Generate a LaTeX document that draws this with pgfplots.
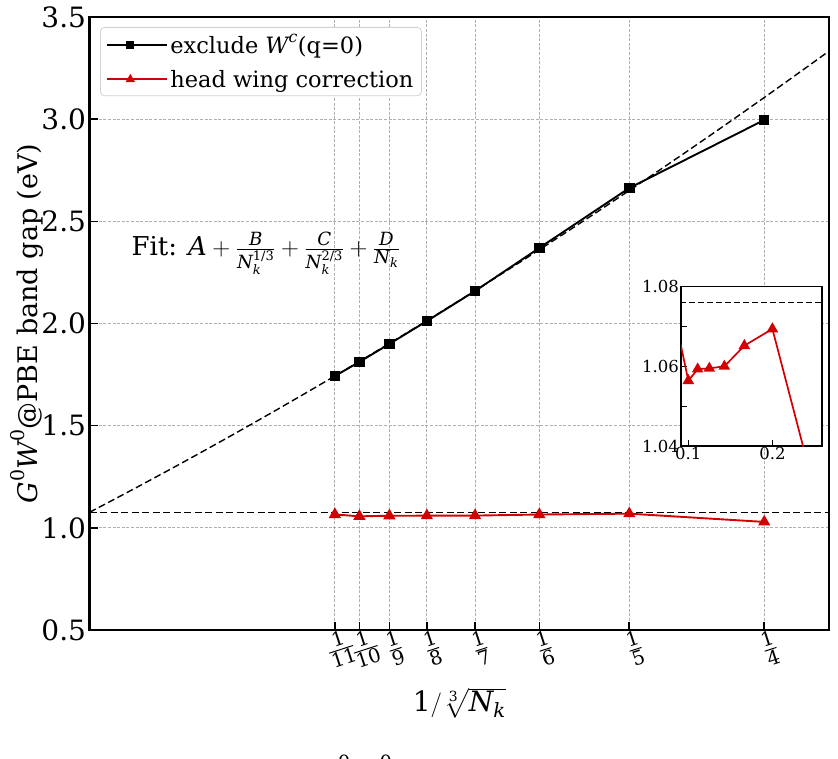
\documentclass[border=0pt]{standalone}
\usepackage{fontspec}
\setmainfont{DejaVu Serif}
\usepackage{amsmath}
\usepackage{pgfplots}
\pgfplotsset{compat=1.18}

\definecolor{hwred}{RGB}{210,0,0}
\definecolor{gridgray}{RGB}{176,176,176}
\definecolor{legframe}{RGB}{210,210,210}

% italic letters taken from the text font
\newcommand{\mi}[1]{\text{\itshape #1}}
\newcommand{\fsz}[1]{\fontsize{#1}{1.2\dimexpr#1\relax}\selectfont}

\begin{document}
\begin{tikzpicture}[x=1bp,y=1bp]
\useasboundingbox (0,0) rectangle (838,-759);

\begin{axis}[
  at={(89.5bp,-630bp)}, anchor=south west,
  scale only axis, width=739.5bp, height=613bp,
  xmin=0, xmax=0.274, ymin=0.5, ymax=3.5,
  xtick={0.0909091,0.1,0.1111111,0.125,0.1428571,0.1666667,0.2,0.25},
  xticklabels={$\frac{\text{1}}{\text{11}}$,$\frac{\text{1}}{\text{10}}$,$\frac{\text{1}}{\text{9}}$,$\frac{\text{1}}{\text{8}}$,$\frac{\text{1}}{\text{7}}$,$\frac{\text{1}}{\text{6}}$,$\frac{\text{1}}{\text{5}}$,$\frac{\text{1}}{\text{4}}$},
  ytick={0.5,1.0,1.5,2.0,2.5,3.0,3.5},
  yticklabel style={font=\fsz{28bp}, /pgf/number format/.cd, fixed, fixed zerofill, precision=1, assume math mode=true},
  tick align=inside, xtick pos=bottom, ytick pos=left,
  major tick length=8bp,
  every tick/.style={black, line width=1.6bp},
  axis line style={line width=2.4bp},
  grid=major,
  major grid style={gridgray, dash pattern=on 3bp off 1.6bp, line width=0.8bp},
  xticklabel style={font=\fsz{28bp}, rotate=18, anchor=north, inner sep=2bp},
  xlabel={$\text{1}/\sqrt[\text{3}]{\mi{N}_{\mi{k}}}$},
  xlabel style={font=\fsz{28bp}, at={(axis description cs:0.5,-0.119)}, anchor=center},
  ylabel={$\mi{G}^{\text{0}}\mi{W}^{\text{0}}$@PBE band gap (eV)},
  ylabel style={font=\fsz{27bp}, at={(axis description cs:-0.0845,0.5)}, anchor=center},
  legend style={at={(0.0142,0.9837)}, anchor=north west, draw=legframe,
    rounded corners=4bp, fill=white, font=\fsz{22.5bp},
    inner xsep=6bp, inner ysep=5bp, row sep=11bp, line width=0.8bp},
  legend cell align=left,
  legend image code/.code={\path (0bp,0bp) -- (60bp,0bp);
    \draw[mark repeat=2, mark phase=2, #1, mark options={scale=0.7}]
    plot coordinates {(0bp,0bp)(23bp,0bp)(46bp,0bp)};},
]
% converged data without the q=0 term
\addplot[black, line width=1.9bp, mark=square*, mark size=4.3bp] coordinates {
  (0.0909091,1.743) (0.1,1.812) (0.1111111,1.900) (0.125,2.012)
  (0.1428571,2.159) (0.1666667,2.370) (0.2,2.663) (0.25,2.996)};
\addlegendentry{exclude $\mi{W}^{\mi{c}}$(q=0)}
% head and wing corrected gaps
\addplot[hwred, line width=1.9bp, mark=triangle*, mark size=5.2bp] coordinates {
  (0.0909091,1.0655) (0.1,1.0564) (0.1111111,1.0593) (0.125,1.0595)
  (0.1428571,1.0600) (0.1666667,1.0652) (0.2,1.0694) (0.25,1.029)};
\addlegendentry{head wing correction}
% extrapolation fit, sampled
\addplot[black, line width=1.4bp, dash pattern=on 7bp off 3.5bp, forget plot] coordinates {
  (0.00,1.0760) (0.01,1.1454) (0.02,1.2158) (0.03,1.2871) (0.04,1.3595)
  (0.05,1.4328) (0.06,1.5072) (0.07,1.5825) (0.08,1.6588) (0.09,1.7360)
  (0.10,1.8143) (0.11,1.8935) (0.12,1.9737) (0.13,2.0549) (0.14,2.1370)
  (0.15,2.2202) (0.16,2.3044) (0.17,2.3895) (0.18,2.4757) (0.19,2.5627)
  (0.20,2.6508) (0.21,2.7399) (0.22,2.8299) (0.23,2.9209) (0.24,3.0129)
  (0.25,3.1059) (0.26,3.1999) (0.27,3.2949) (0.28,3.3908)};
% extrapolated limit A
\addplot[black, line width=1.4bp, dash pattern=on 7bp off 3.5bp, forget plot] coordinates {
  (0,1.076) (0.274,1.076)};
\node[anchor=west, font=\fsz{26bp}] at (axis cs:0.0143,2.345)
  {Fit: $\mi{A}+\frac{\mi{B}}{\mi{N}_{\mi{k}}^{\text{1/3}}}+\frac{\mi{C}}{\mi{N}_{\mi{k}}^{\text{2/3}}}+\frac{\mi{D}}{\mi{N}_{\mi{k}}}$};
\end{axis}

% zoom on the corrected series
\begin{axis}[
  at={(681bp,-446bp)}, anchor=south west,
  scale only axis, width=141bp, height=159.3bp,
  xmin=0.0913, xmax=0.259, ymin=1.04, ymax=1.08,
  axis background/.style={fill=white},
  xtick={0.1,0.2}, xticklabels={0.1,0.2},
  ytick={1.04,1.05,1.06,1.07,1.08}, yticklabels={1.04,,1.06,,1.08},
  tick align=inside, xtick pos=bottom, ytick pos=left,
  major tick length=6bp,
  every tick/.style={black, line width=1bp},
  axis line style={line width=1.1bp},
  ticklabel style={font=\fsz{16.5bp}},
  xticklabel style={inner sep=1bp},
  yticklabel style={inner sep=2bp},
]
\addplot[hwred, line width=1.7bp, mark=triangle*, mark size=5bp] coordinates {
  (0.0909091,1.0655) (0.1,1.0564) (0.1111111,1.0593) (0.125,1.0595)
  (0.1428571,1.0600) (0.1666667,1.0652) (0.2,1.0694) (0.25,1.029)};
\addplot[black, line width=1.3bp, dash pattern=on 6bp off 3bp] coordinates {
  (0.09,1.0761) (0.26,1.0761)};
\end{axis}

\node[anchor=base west, font=\fsz{28bp}] at (312,-782)
  {$\mi{G}^{\text{0}}\mi{W}^{\text{0}}$@PBE band gap};
\end{tikzpicture}
\end{document}
